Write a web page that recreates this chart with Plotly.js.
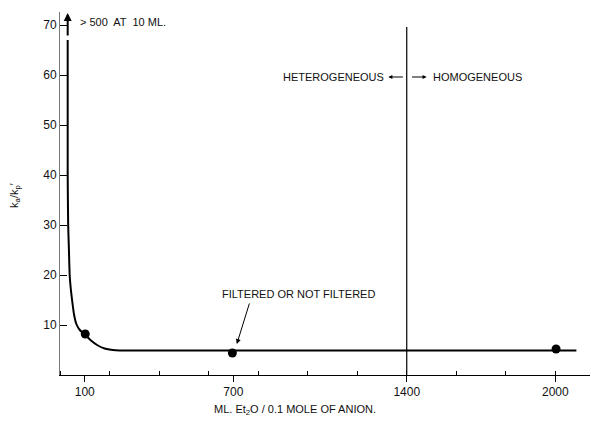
<!DOCTYPE html>
<html>
<head>
<meta charset="utf-8">
<script src="https://cdn.plot.ly/plotly-3.0.1.min.js"></script>
<style>html,body{margin:0;padding:0;background:#fff;}#chart{width:591px;height:423px;}</style>
</head>
<body>
<div id="chart"></div>
<script>
// Curve: ka/kp' vs ml Et2O per 0.1 mole of anion
const curveX = [31, 31, 33, 36, 39, 44, 50, 57, 66, 80, 103, 125, 153, 180, 213, 240, 400, 1000, 1600, 2085];
const curveY = [67, 40, 30, 25, 20, 17, 14.5, 12, 10.2, 9, 8.0, 6.9, 5.9, 5.3, 5.0, 4.9, 4.9, 4.9, 4.9, 4.9];
// Measured points
const pointsX = [102, 696, 2003];
const pointsY = [8.2, 4.4, 5.2];
// Boundary between heterogeneous and homogeneous
const boundaryX = [1400, 1400];
const boundaryY = [0, 69.6];
// Tick labels
const xTickVals = [100, 700, 1400, 2000];
const yTickVals = [10, 20, 30, 40, 50, 60, 70];

const fnt = {family: 'Liberation Sans, Arial, sans-serif', size: 11, color: '#111'};

const traces = [
  {x: curveX, y: curveY, mode: 'lines', line: {color: '#000', width: 2, shape: 'spline', smoothing: 0.4}, hoverinfo: 'skip'},
  {x: boundaryX, y: boundaryY, mode: 'lines', line: {color: '#000', width: 1.2}, hoverinfo: 'skip'},
  {x: pointsX, y: pointsY, mode: 'markers', marker: {color: '#000', size: 9}}
];

const layout = {
  width: 591, height: 423,
  margin: {l: 60, r: 1, t: 12, b: 48},
  paper_bgcolor: '#fff', plot_bgcolor: '#fff',
  showlegend: false,
  font: fnt,
  xaxis: {
    range: [0, 2140], showgrid: false, zeroline: false,
    showline: true, linecolor: '#000', linewidth: 1,
    tickmode: 'array', tickvals: xTickVals, ticktext: xTickVals.map(String),
    ticks: 'outside', ticklen: 6, tickcolor: '#000',
    tickfont: {family: 'Liberation Sans, Arial, sans-serif', size: 12, color: '#111'},
    minor: {tickmode: 'linear', tick0: 0, dtick: 200, ticks: 'inside', ticklen: 4, tickcolor: '#000', showgrid: false}
  },
  yaxis: {
    range: [0, 72.6], showgrid: false, zeroline: false,
    showline: true, linecolor: '#777', linewidth: 1,
    tickmode: 'array', tickvals: yTickVals, ticktext: yTickVals.map(String),
    ticks: 'inside', ticklen: 7, tickcolor: '#000',
    tickfont: {family: 'Liberation Sans, Arial, sans-serif', size: 12, color: '#111'}
  },
  annotations: [
    {x: 72, y: 70.6, xref: 'x', yref: 'y', text: '&gt; 500  AT  10 ML.', showarrow: false, xanchor: 'left', yanchor: 'middle', font: fnt},
    {x: 1318, y: 59.6, xref: 'x', yref: 'y', text: 'HETEROGENEOUS', showarrow: false, xanchor: 'right', yanchor: 'middle', font: fnt},
    {x: 1496, y: 59.6, xref: 'x', yref: 'y', text: 'HOMOGENEOUS', showarrow: false, xanchor: 'left', yanchor: 'middle', font: fnt},
    {x: 1326, y: 59.6, xref: 'x', yref: 'y', text: '', showarrow: true, ax: 16, ay: 0, arrowhead: 2, arrowsize: 0.8, arrowwidth: 1, arrowcolor: '#000'},
    {x: 1480, y: 59.6, xref: 'x', yref: 'y', text: '', showarrow: true, ax: -16, ay: 0, arrowhead: 2, arrowsize: 0.8, arrowwidth: 1, arrowcolor: '#000'},
    {x: 646, y: 16.2, xref: 'x', yref: 'y', text: 'FILTERED OR NOT FILTERED', showarrow: false, xanchor: 'left', yanchor: 'middle', font: fnt},
    {x: 714, y: 6.2, xref: 'x', yref: 'y', text: '', showarrow: true, ax: 13, ay: -42, arrowhead: 2, arrowsize: 1, arrowwidth: 1, arrowcolor: '#000'},
    {x: 31, y: 72.4, xref: 'x', yref: 'y', text: '', showarrow: true, ax: 0, ay: 24, arrowhead: 2, arrowsize: 0.8, arrowwidth: 2, arrowcolor: '#000'},
    {x: 0.443, y: -0.096, xref: 'paper', yref: 'paper', text: 'ML. Et<sub>2</sub>O / 0.1 MOLE OF ANION.', showarrow: false, xanchor: 'center', yanchor: 'middle', font: fnt},
    {x: -0.085, y: 0.496, xref: 'paper', yref: 'paper', text: 'k<sub>a</sub>/k<sub>p</sub>\u2032', textangle: -90, showarrow: false, xanchor: 'center', yanchor: 'middle', font: {family: 'Liberation Sans, Arial, sans-serif', size: 11, color: '#111'}}
  ]
};

Plotly.newPlot('chart', traces, layout, {displayModeBar: false, staticPlot: true});
</script>
</body>
</html>
